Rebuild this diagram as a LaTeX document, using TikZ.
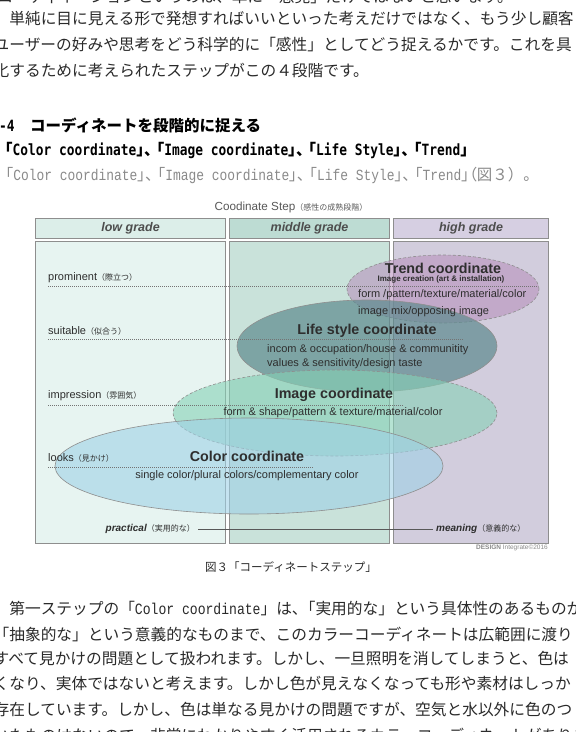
\documentclass[tikz,border=0pt]{standalone}
\usepackage{fontspec}
\setmainfont{Liberation Sans}
\newfontfamily\jp{Noto Sans CJK JP}
\newfontfamily\jpp{Noto Sans CJK JP}[RawFeature=+palt]
\newfontfamily\hwserif{Liberation Mono}[FakeStretch=0.833]
\newfontfamily\hwsans{DejaVu Sans Mono}[FakeStretch=0.83]
\usetikzlibrary{shapes.geometric, positioning}
\definecolor{colframe}{HTML}{8E8E8E}
\definecolor{lowhead}{HTML}{DCEEE9}
\definecolor{lowbody}{HTML}{E7F4F1}
\definecolor{midhead}{HTML}{BDDCD3}
\definecolor{midbody}{HTML}{C9E2DA}
\definecolor{highhead}{HTML}{D6CFE2}
\definecolor{highbody}{HTML}{D2CDDD}
\definecolor{trendfill}{HTML}{B68CBA}
\definecolor{lifefill}{HTML}{5D8A8E}
\definecolor{imagefill}{HTML}{86D1B6}
\definecolor{colorfill}{HTML}{9FD1E6}
\definecolor{inktxt}{HTML}{2E2E2E}
\definecolor{bodytxt}{HTML}{2A2A2A}
\definecolor{softtxt}{HTML}{8A8A8A}
\newcommand{\jsub}[1]{{\jp\fontsize{8}{9}\selectfont #1}}
\newcommand{\kgap}{{\jpp 」、}\kern-.2em「}
\tikzset{
  colhead/.style={rectangle, draw=colframe, line width=1.1pt, inner sep=0pt, anchor=north west, minimum height=20pt, font=\fontsize{12.5}{14}\selectfont\bfseries\itshape, text=inktxt!85},
  colbody/.style={rectangle, draw=colframe, line width=1.1pt, inner sep=0pt, anchor=north west, minimum height=302pt},
  cloud/.style={ellipse, draw=colframe, line width=0.6pt, inner sep=0pt, fill opacity=0.6},
  ctitle/.style={inner sep=0pt, font=\fontsize{14.3}{16}\selectfont\bfseries, text=inktxt},
  cline/.style={inner sep=0pt, font=\fontsize{11}{13}\selectfont, text=inktxt},
  csub/.style={inner sep=0pt, font=\fontsize{8}{9}\selectfont\bfseries, text=inktxt},
  lvl/.style={anchor=west, inner sep=0pt, font=\fontsize{11}{13}\selectfont, text=inktxt},
  dots/.style={gray!90!black, line width=0.7pt, dash pattern=on 0.8pt off 1.2pt},
  bodyline/.style={anchor=west, inner sep=0pt, font=\jp\fontsize{15.7}{18}\selectfont, text=bodytxt},
  bodyhead/.style={anchor=west, inner sep=0pt, font=\jp\bfseries\fontsize{15.5}{18}\selectfont, text=black},
}
\begin{document}
\begin{tikzpicture}[x=1pt, y=-1pt]
\useasboundingbox (0,0) rectangle (576,732);
\clip (0,0) rectangle (576,732);
\fill[white] (0,0) rectangle (576,732);

\node[bodyline, anchor=east] (t0) at (513,-4) {コーディネーションというのは、単に「感覚」だけではないと思います。};
\node[bodyline] (t1) at (-6.5,19) {　単純に目に見える形で発想すればいいといった考えだけではなく、もう少し顧客};
\node[bodyline] (t2) at (-6.5,45) {ユーザーの好みや思考をどう科学的に「感性」としてどう捉えるかです。これを具};
\node[bodyline] (t3) at (-6.5,71) {化するために考えられたステップがこの４段階です。};
\node[bodyhead] (t4) at (-1,125) {{\hwsans\bfseries -4}　コーディネートを段階的に捉える};
\node[bodyhead, anchor=east] (t5) at (476,150) {「{\hwsans\bfseries Color coordinate}\kgap{\hwsans\bfseries Image coordinate}\kgap{\hwsans\bfseries Life Style}\kgap{\hwsans\bfseries Trend}」};
\node[bodyline, anchor=east, text=softtxt, font=\jp\fontsize{15.5}{18}\selectfont] (t6) at (539,175) {「{\hwserif Color coordinate}\kgap{\hwserif Image coordinate}\kgap{\hwserif Life Style}\kgap{\hwserif Trend}{\jpp 」（}図３）。};

\node[inner sep=0pt, text=inktxt!80] (ttl) at (291,207) {{\fontsize{11.7}{13}\selectfont Coodinate Step}\jsub{（感性の成熟段階）}};

\node[colhead, fill=lowhead, minimum width=190pt] (lowh) at (35,218) {low grade};
\node[colhead, fill=midhead, minimum width=160pt] (midh) at (229,218) {middle grade};
\node[colhead, fill=highhead, minimum width=155pt] (highh) at (393,218) {high grade};
\node[colbody, fill=lowbody, minimum width=190pt] (lowb) at (35,241) {};
\node[colbody, fill=midbody, minimum width=160pt] (midb) at (229,241) {};
\node[colbody, fill=highbody, minimum width=155pt] (highb) at (393,241) {};

\node[cloud, densely dashed, fill=trendfill, fill opacity=0.55, minimum width=192pt, minimum height=68pt] (trend) at (443,289) {};
\node[cloud, fill=lifefill, fill opacity=0.7, minimum width=260pt, minimum height=92pt] (life) at (367,346) {};
\node[cloud, densely dashed, fill=imagefill, minimum width=324pt, minimum height=86pt] (image) at (335,413) {};
\node[cloud, fill=colorfill, minimum width=388pt, minimum height=96pt] (color) at (249,466) {};

\node[lvl] (prom) at (48,278) {prominent\jsub{（際立つ）}};
\node[lvl] (suit) at (48,331) {suitable\jsub{（似合う）}};
\node[lvl] (impr) at (48,396) {impression\jsub{（雰囲気）}};
\node[lvl] (look) at (48,458) {looks\jsub{（見かけ）}};
\coordinate (prom-r) at (537,286);
\coordinate (suit-r) at (463,339);
\coordinate (impr-r) at (403,405);
\coordinate (look-r) at (313,467);
\draw[dots] (prom.west |- prom-r) -- (prom-r);
\draw[dots] (suit.west |- suit-r) -- (suit-r);
\draw[dots] (impr.west |- impr-r) -- (impr-r);
\draw[dots] (look.west |- look-r) -- (look-r);

\node[ctitle] (trend-t) at (443,268) {Trend coordinate};
\node[csub] (trend-s) at (441,279) {Image creation (art \& installation)};
\node[cline, anchor=west] (trend-a) at (358,295) {form /pattern/texture/material/color};
\node[cline, anchor=west] (trend-b) at (358,312) {image mix/opposing image};
\node[ctitle] (life-t) at (367,331) {Life style coordinate};
\node[cline, anchor=west] (life-a) at (267,350) {incom \& occupation/house \& communitity};
\node[cline, anchor=west] (life-b) at (267,364) {values \& sensitivity/design taste};
\node[ctitle] (image-t) at (334,395) {Image coordinate};
\node[cline] (image-a) at (333,413) {form \& shape/pattern \& texture/material/color};
\node[ctitle] (color-t) at (247,456) {Color coordinate};
\node[cline] (color-a) at (247,476) {single color/plural colors/complementary color};

\node[inner sep=0pt, anchor=east, text=inktxt] (prac) at (195,529) {{\fontsize{10}{12}\selectfont\bfseries\itshape practical}\jsub{（実用的な）}};
\node[inner sep=0pt, anchor=west, text=inktxt] (mean) at (436,529) {{\fontsize{10}{12}\selectfont\bfseries\itshape meaning}\jsub{（意義的な）}};
\draw[inktxt!80, line width=0.8pt] ([xshift=3pt]prac.east) -- ([xshift=-3pt]mean.west);
\node[inner sep=0pt, anchor=east, text=softtxt, font=\fontsize{6.5}{7}\selectfont] (sign) at (548,548) {{\bfseries DESIGN} Integrate\copyright2016};

\node[inner sep=0pt, text=bodytxt, font=\jp\fontsize{11.5}{13}\selectfont] (cap) at (291,567) {図３「コーディネートステップ」};

\node[bodyline] (b1) at (-6.5,609) {　第一ステップの「{\hwserif Color coordinate}」は{\jpp 、}「実用的な」という具体性のあるものか};
\node[bodyline] (b2) at (-6.5,634) {「抽象的な」という意義的なものまで、このカラーコーディネートは広範囲に渡り};
\node[bodyline] (b3) at (-6.5,659) {すべて見かけの問題として扱われます。しかし、一旦照明を消してしまうと、色は};
\node[bodyline] (b4) at (-6.5,684) {くなり、実体ではないと考えます。しかし色が見えなくなっても形や素材はしっか};
\node[bodyline] (b5) at (-6.5,710) {存在しています。しかし、色は単なる見かけの問題ですが、空気と水以外に色のつ};
\node[bodyline] (b6) at (-6.5,736) {いたものはないので、非常にわかりやすく活用されるカラーコーディネートがあります。};
\end{tikzpicture}
\end{document}
